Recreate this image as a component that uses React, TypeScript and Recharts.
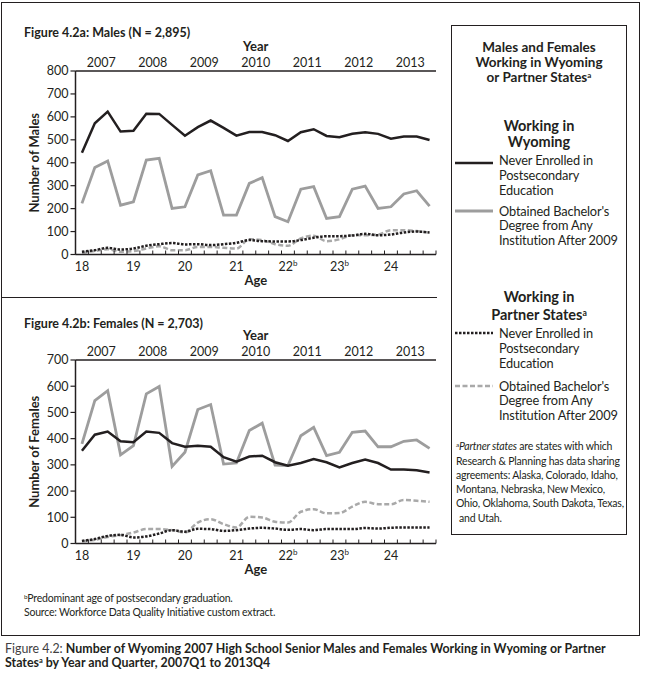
import React from "react";
import { LineChart, Line, XAxis, YAxis } from "recharts";

const quarters = [
  "2007Q1", "2007Q2", "2007Q3", "2007Q4",
  "2008Q1", "2008Q2", "2008Q3", "2008Q4",
  "2009Q1", "2009Q2", "2009Q3", "2009Q4",
  "2010Q1", "2010Q2", "2010Q3", "2010Q4",
  "2011Q1", "2011Q2", "2011Q3", "2011Q4",
  "2012Q1", "2012Q2", "2012Q3", "2012Q4",
  "2013Q1", "2013Q2", "2013Q3", "2013Q4",
];
const yearLabels = ["2007", "2008", "2009", "2010", "2011", "2012", "2013"];
const ageLabels = ["18", "19", "20", "21", "22", "23", "24"];
const ageMarks = ["", "", "", "", "b", "b", ""];
const maleTicks = [0, 100, 200, 300, 400, 500, 600, 700, 800];
const femaleTicks = [0, 100, 200, 300, 400, 500, 600, 700];

// males
const maleWyNever = [444, 572, 623, 536, 539, 614, 613, 565, 518, 555, 584, 552, 518, 534, 534, 520, 495, 533, 546, 517, 511, 526, 533, 526, 505, 514, 514, 499];
const maleWyBach = [223, 379, 408, 215, 230, 412, 419, 201, 208, 347, 365, 172, 172, 310, 335, 165, 143, 285, 296, 157, 165, 285, 298, 201, 208, 264, 278, 211];
const malePtNever = [12, 19, 29, 22, 26, 38, 45, 50, 44, 45, 41, 45, 51, 63, 58, 57, 57, 63, 73, 80, 80, 83, 90, 84, 87, 96, 100, 96];
const malePtBach = [7, 15, 23, 12, 15, 26, 36, 19, 19, 33, 33, 29, 26, 67, 63, 45, 38, 70, 82, 58, 66, 84, 84, 87, 106, 106, 102, 95];

// females
const femWyNever = [354, 415, 427, 390, 386, 427, 422, 383, 369, 373, 369, 329, 312, 332, 335, 310, 297, 307, 322, 310, 290, 307, 320, 307, 282, 282, 279, 271];
const femWyBach = [380, 545, 583, 338, 373, 571, 599, 294, 348, 511, 530, 303, 307, 431, 459, 299, 297, 411, 443, 335, 348, 424, 429, 369, 369, 390, 395, 363];
const femPtNever = [10, 17, 29, 33, 23, 27, 38, 51, 45, 56, 55, 48, 51, 57, 60, 57, 52, 55, 51, 55, 55, 55, 59, 57, 60, 61, 61, 61];
const femPtBach = [8, 14, 25, 32, 42, 55, 55, 51, 42, 80, 93, 74, 61, 102, 99, 83, 80, 121, 131, 115, 116, 141, 159, 150, 150, 166, 163, 159];

const ink = "#231f20";
const grey = "#9d9d9d";
const greyDash = "#a9a9a9";
const font = "Lato, 'Open Sans', sans-serif";

const buildRows = (wyNever: number[], wyBach: number[], ptNever: number[], ptBach: number[]) =>
  quarters.map((quarter, i) => ({
    q: i,
    quarter,
    wyNever: wyNever[i],
    wyBach: wyBach[i],
    ptNever: ptNever[i],
    ptBach: ptBach[i],
  }));

const maleRows = buildRows(maleWyNever, maleWyBach, malePtNever, malePtBach);
const femaleRows = buildRows(femWyNever, femWyBach, femPtNever, femPtBach);

const xDomain = [-0.5, quarters.length - 0.5];
const bandEdges = quarters.map((_, i) => i - 0.5).concat(quarters.length - 0.5);
const ageTickValues = ageLabels.map((_, i) => i * 4);
const bottomTicks = [...bandEdges, ...ageTickValues].sort((a, b) => a - b);
const yearTickValues = yearLabels.map((_, i) => i * 4 + 1.5);

function AgeTick(props: any) {
  const { x, y, payload } = props;
  const v = payload.value;
  if (!Number.isInteger(v)) {
    return <line x1={x} x2={x} y1={y} y2={y - 4} stroke={ink} strokeWidth={1} />;
  }
  const k = v / 4;
  return (
    <text x={x} y={y + 16} textAnchor="middle" fontSize={12.5} fill={ink} fontFamily={font}>
      {ageLabels[k]}
      {ageMarks[k] && (
        <tspan dy={-5} fontSize={8}>
          {ageMarks[k]}
        </tspan>
      )}
    </text>
  );
}

function Panel({ rows, yTicks, yLabel, top }: { rows: any[]; yTicks: number[]; yLabel: string; top: number }) {
  const axisText = { fontSize: 12.5, fill: ink, fontFamily: font };
  return (
    <div style={{ position: "absolute", left: 0, top }}>
      <LineChart width={445} height={253} data={rows} margin={{ top: 5, right: 9, left: 0, bottom: 0 }}>
        <XAxis
          xAxisId="year"
          orientation="top"
          type="number"
          dataKey="q"
          domain={xDomain}
          ticks={yearTickValues}
          interval={0}
          tickFormatter={(v) => yearLabels[Math.round((v - 1.5) / 4)]}
          tickLine={false}
          tickSize={0}
          tickMargin={4}
          axisLine={{ stroke: ink, strokeWidth: 1.5 }}
          height={30}
          tick={axisText}
          label={{ value: "Year", position: "insideTop", offset: 1, fontSize: 13, fontWeight: 700, fill: ink, fontFamily: font }}
        />
        <XAxis
          type="number"
          dataKey="q"
          domain={xDomain}
          ticks={bottomTicks}
          interval={0}
          tickLine={false}
          tickSize={0}
          tickMargin={0}
          axisLine={{ stroke: ink, strokeWidth: 1.5 }}
          height={34.5}
          tick={(p: any) => <AgeTick {...p} />}
          label={{ value: "Age", position: "insideBottom", offset: 4, fontSize: 13, fontWeight: 700, fill: ink, fontFamily: font }}
        />
        <YAxis
          domain={[0, yTicks[yTicks.length - 1]]}
          ticks={yTicks}
          interval={0}
          width={75.5}
          tickSize={5}
          tickMargin={2}
          tickLine={{ stroke: ink, strokeWidth: 1.2 }}
          axisLine={{ stroke: ink, strokeWidth: 1.5 }}
          tick={axisText}
          label={{
            value: yLabel,
            angle: -90,
            position: "insideLeft",
            offset: 34,
            style: { textAnchor: "middle" },
            fontSize: 13,
            fontWeight: 700,
            fill: ink,
            fontFamily: font,
          }}
        />
        <Line dataKey="wyBach" type="linear" stroke={grey} strokeWidth={2.8} dot={false} activeDot={false} isAnimationActive={false} />
        <Line dataKey="ptBach" type="monotone" stroke={greyDash} strokeWidth={2.5} strokeDasharray="5 2.5" dot={false} activeDot={false} isAnimationActive={false} />
        <Line dataKey="ptNever" type="monotone" stroke={ink} strokeWidth={2.5} strokeDasharray="2.5 1.5" dot={false} activeDot={false} isAnimationActive={false} />
        <Line dataKey="wyNever" type="linear" stroke={ink} strokeWidth={2.5} dot={false} activeDot={false} isAnimationActive={false} />
      </LineChart>
    </div>
  );
}

function Sup({ children }: { children: React.ReactNode }) {
  return <span style={{ fontSize: "0.6em", position: "relative", top: "-0.45em" }}>{children}</span>;
}

function Txt({
  x, y, children, size = 12.8, bold = false, center = false, w = 200, spacing = 0, lh = 13,
}: {
  x: number; y: number; children: React.ReactNode; size?: number; bold?: boolean; center?: boolean; w?: number; spacing?: number; lh?: number;
}) {
  return (
    <div
      style={{
        position: "absolute",
        left: center ? x - w / 2 : x,
        top: y - lh / 2,
        width: center ? w : undefined,
        lineHeight: `${lh}px`,
        fontSize: size,
        fontWeight: bold ? 700 : 400,
        textAlign: center ? "center" : "left",
        whiteSpace: "nowrap",
        letterSpacing: spacing,
        color: ink,
      }}
    >
      {children}
    </div>
  );
}

function Sample({ y, color, dash, width = 2.5 }: { y: number; color: string; dash?: string; width?: number }) {
  return (
    <svg style={{ position: "absolute", left: 455, top: y - 3 }} width={38} height={6}>
      <line x1={0} x2={38} y1={3} y2={3} stroke={color} strokeWidth={width} strokeDasharray={dash} />
    </svg>
  );
}

export default function App() {
  const cx = 539;
  return (
    <div style={{ position: "absolute", left: 0, top: 0, width: 645, height: 674, background: "#fff", fontFamily: font, color: ink }}>
      <div style={{ position: "absolute", left: 1, top: 2, width: 639, height: 634, border: `1.5px solid ${ink}`, boxSizing: "border-box" }} />
      <div style={{ position: "absolute", left: 1, top: 296.5, width: 436, height: 0, borderTop: `1.5px solid ${ink}` }} />

      <Txt x={24} y={32} size={12.5} bold lh={15}>Figure 4.2a: Males (N = 2,895)</Txt>
      <Panel rows={maleRows} yTicks={maleTicks} yLabel="Number of Males" top={36} />

      <Txt x={24} y={323} size={12.5} bold lh={15}>Figure 4.2b: Females (N = 2,703)</Txt>
      <Panel rows={femaleRows} yTicks={femaleTicks} yLabel="Number of Females" top={324.5} />

      <div style={{ position: "absolute", left: 451, top: 25, width: 176, height: 510, border: `1.5px solid ${ink}`, boxSizing: "border-box" }} />
      <Txt x={cx} y={47} size={13.5} bold center>Males and Females</Txt>
      <Txt x={cx} y={62} size={13.5} bold center>Working in Wyoming</Txt>
      <Txt x={cx} y={77} size={13.5} bold center>or Partner States<Sup>a</Sup></Txt>

      <Txt x={cx} y={126} size={14.5} bold center lh={14}>Working in</Txt>
      <Txt x={cx} y={142} size={14.5} bold center lh={14}>Wyoming</Txt>
      <Sample y={163} color={ink} />
      <Txt x={499} y={160} spacing={-0.15}>Never Enrolled in</Txt>
      <Txt x={499} y={175} spacing={-0.15}>Postsecondary</Txt>
      <Txt x={499} y={190} spacing={-0.15}>Education</Txt>
      <Sample y={211} color={grey} width={2.8} />
      <Txt x={499} y={211} spacing={-0.15}>Obtained Bachelor's</Txt>
      <Txt x={499} y={225.5} spacing={-0.15}>Degree from Any</Txt>
      <Txt x={499} y={240} spacing={-0.15}>Institution After 2009</Txt>

      <Txt x={cx} y={297} size={14.5} bold center lh={14}>Working in</Txt>
      <Txt x={cx} y={315} size={14.5} bold center lh={14}>Partner States<Sup>a</Sup></Txt>
      <Sample y={333} color={ink} dash="2.5 1.5" />
      <Txt x={499} y={333} spacing={-0.15}>Never Enrolled in</Txt>
      <Txt x={499} y={348} spacing={-0.15}>Postsecondary</Txt>
      <Txt x={499} y={363} spacing={-0.15}>Education</Txt>
      <Sample y={386} color={greyDash} dash="5 2.5" />
      <Txt x={499} y={386} spacing={-0.15}>Obtained Bachelor's</Txt>
      <Txt x={499} y={400.5} spacing={-0.15}>Degree from Any</Txt>
      <Txt x={499} y={415} spacing={-0.15}>Institution After 2009</Txt>

      <Txt x={456} y={446} size={10.5} spacing={-0.2} lh={12}><Sup>a</Sup><i>Partner states</i> are states with which</Txt>
      <Txt x={456} y={461} size={10.5} spacing={-0.2} lh={12}>Research &amp; Planning has data sharing</Txt>
      <Txt x={456} y={475} size={10.5} spacing={-0.2} lh={12}>agreements: Alaska, Colorado, Idaho,</Txt>
      <Txt x={456} y={489} size={10.5} spacing={-0.2} lh={12}>Montana, Nebraska, New Mexico,</Txt>
      <Txt x={456} y={503} size={10.5} spacing={-0.2} lh={12}>Ohio, Oklahoma, South Dakota, Texas,</Txt>
      <Txt x={459} y={518} size={10.5} spacing={-0.2} lh={12}>and Utah.</Txt>

      <Txt x={24} y={598} size={10.5} spacing={-0.2} lh={12}><Sup>b</Sup>Predominant age of postsecondary graduation.</Txt>
      <Txt x={24} y={612} size={10.5} spacing={-0.2} lh={12}>Source: Workforce Data Quality Initiative custom extract.</Txt>

      <Txt x={5} y={648} size={12.4} lh={13}>
        <span style={{ color: "#414042" }}>Figure 4.2: </span>
        <b>Number of Wyoming 2007 High School Senior Males and Females Working in Wyoming or Partner</b>
      </Txt>
      <Txt x={5} y={662} size={12.4} lh={13}>
        <b>States<Sup>a</Sup> by Year and Quarter, 2007Q1 to 2013Q4</b>
      </Txt>
    </div>
  );
}
